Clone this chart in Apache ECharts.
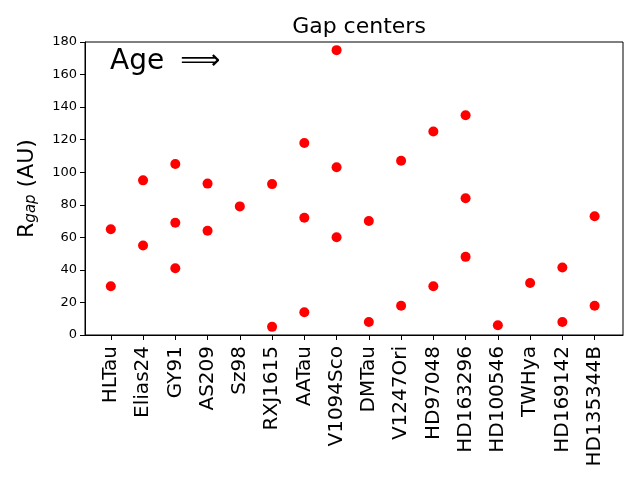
<!DOCTYPE html>
<html>
<head>
<meta charset="utf-8">
<script src="https://cdn.jsdelivr.net/npm/echarts@6/dist/echarts.min.js"></script>
<style>
  html, body { margin: 0; padding: 0; background: #fff; }
  #chart { width: 640px; height: 480px; }
</style>
</head>
<body>
<div id="chart"></div>
<script>
// disc names, ordered by age
var sources = ['HLTau', 'Elias24', 'GY91', 'AS209', 'Sz98', 'RXJ1615', 'AATau', 'V1094Sco',
  'DMTau', 'V1247Ori', 'HD97048', 'HD163296', 'HD100546', 'TWHya', 'HD169142', 'HD135344B'];
// gap radii (AU) per disc
var gapRadii = [
  [65, 30],
  [95, 55],
  [105, 69, 41],
  [93, 64],
  [79],
  [92.7, 5],
  [118, 72, 14],
  [175, 103, 60],
  [70, 8],
  [107, 18],
  [125, 30],
  [135, 84, 48],
  [6],
  [32],
  [41.5, 8],
  [73, 18]
];
var yTicks = [0, 20, 40, 60, 80, 100, 120, 140, 160, 180];

var font = 'DejaVu Sans';
var points = [];
gapRadii.forEach(function (list, i) {
  list.forEach(function (r) { points.push([i, r]); });
});
var idx = sources.map(function (s, i) { return i; });

var chart = echarts.init(document.getElementById('chart'));
chart.setOption({
  animation: false,
  title: {
    text: 'Gap centers',
    left: 354, top: 11, textAlign: 'center',
    textStyle: { fontFamily: font, fontSize: 22, fontWeight: 'normal', color: '#000' }
  },
  grid: {
    left: 85, right: 17, top: 42, bottom: 145,
    show: true, borderColor: '#000', borderWidth: 1
  },
  xAxis: {
    type: 'value', min: -0.8, max: 15.88,
    splitLine: { show: false },
    axisLine: { onZero: false, lineStyle: { color: '#000' } },
    axisTick: { show: true, length: 5, inside: false, customValues: idx, lineStyle: { color: '#000' } },
    axisLabel: {
      customValues: idx, rotate: 90, margin: 11,
      fontFamily: font, fontSize: 20, color: '#000',
      formatter: function (v) { return sources[Math.round(v)]; }
    }
  },
  yAxis: {
    type: 'value', min: 0, max: 180, interval: 20,
    splitLine: { show: false },
    axisLine: { show: true, onZero: false, lineStyle: { color: '#000' } },
    axisTick: { show: true, length: 5, lineStyle: { color: '#000' } },
    axisLabel: {
      fontFamily: font, fontSize: 13, color: '#000', margin: 8,
      customValues: yTicks
    },
    name: 'R{sub|gap} (AU)',
    nameLocation: 'middle', nameGap: 46, nameRotate: 90,
    nameTextStyle: {
      fontFamily: font, fontSize: 22, color: '#000',
      rich: { sub: { fontFamily: font, fontSize: 15, fontStyle: 'italic', color: '#000', verticalAlign: 'bottom', padding: [9, 0, 0, 0] } }
    }
  },
  graphic: [{
    type: 'text', left: 110, top: 48,
    style: {
      text: '{a|Age}{b|⟹}',
      rich: {
        a: { fontFamily: font, fontSize: 28, fill: '#000', color: '#000' },
        b: { fontFamily: font, fontSize: 28, fill: '#000', color: '#000', padding: [0, 0, 0, 16] }
      }
    }
  }],
  series: [{
    type: 'scatter',
    data: points,
    symbolSize: 10,
    itemStyle: { color: '#ff0000', opacity: 1 }
  }]
});
</script>
</body>
</html>
